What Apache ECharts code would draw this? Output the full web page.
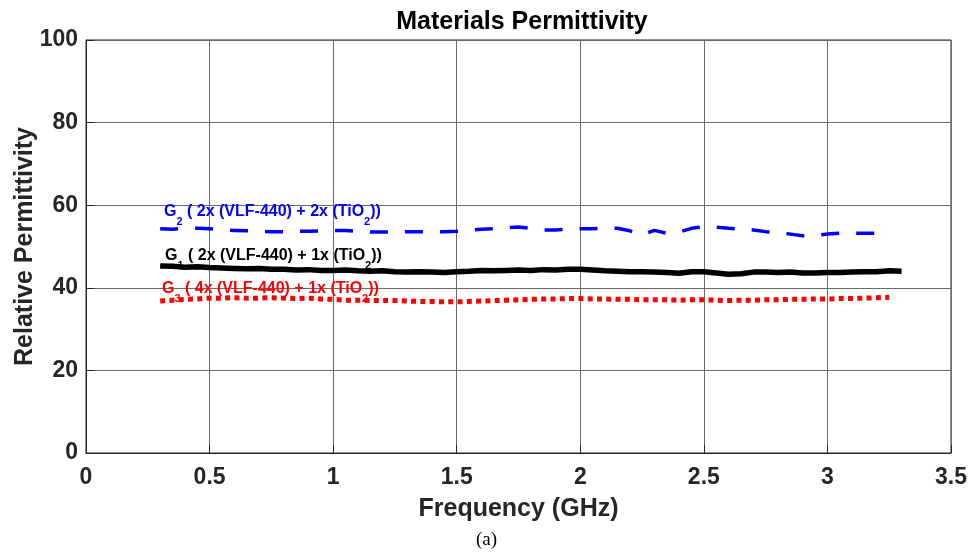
<!DOCTYPE html>
<html>
<head>
<meta charset="utf-8">
<script src="https://cdn.jsdelivr.net/npm/echarts@6/dist/echarts.min.js"></script>
<style>
    html, body { margin: 0; padding: 0; background: #fff; }
    #main { width: 973px; height: 553px; }
</style>
</head>
<body>
<div id="main"></div>
<script>
// frequency samples (GHz)
const freqG1 = [
    0.30, 0.35, 0.40, 0.45, 0.50, 0.55, 0.60, 0.65, 0.70, 0.75,
    0.80, 0.85, 0.90, 0.95, 1.00, 1.05, 1.10, 1.15, 1.20, 1.25,
    1.30, 1.35, 1.40, 1.45, 1.50, 1.55, 1.60, 1.65, 1.70, 1.75,
    1.80, 1.85, 1.90, 1.95, 2.00, 2.05, 2.10, 2.15, 2.20, 2.25,
    2.30, 2.35, 2.40, 2.45, 2.50, 2.55, 2.60, 2.65, 2.70, 2.75,
    2.80, 2.85, 2.90, 2.95, 3.00, 3.05, 3.10, 3.15, 3.20, 3.25, 3.30,
]
const freqG2 = freqG1.slice(0, 60)
const freqG3 = freqG1.slice(0, 60)

// relative permittivity readings
const permG1 = [
    45.3, 45.2, 45.0, 45.1, 44.9, 44.8, 44.7, 44.6, 44.7, 44.5,
    44.5, 44.3, 44.4, 44.2, 44.2, 44.3, 44.1, 44.0, 44.1, 43.9,
    43.8, 43.9, 43.8, 43.7, 43.9, 44.0, 44.2, 44.1, 44.2, 44.3,
    44.2, 44.4, 44.3, 44.5, 44.5, 44.3, 44.1, 44.0, 43.9, 43.9,
    43.8, 43.7, 43.5, 43.9, 43.9, 43.6, 43.3, 43.4, 43.8, 43.8,
    43.7, 43.8, 43.6, 43.6, 43.7, 43.7, 43.8, 43.9, 43.9, 44.1, 44.0,
]
const permG2 = [
    54.3, 54.2, 54.4, 54.4, 54.3, 54.0, 53.9, 53.8, 53.7, 53.6,
    53.6, 53.7, 53.7, 53.8, 53.9, 53.9, 53.7, 53.5, 53.5, 53.5,
    53.6, 53.6, 53.6, 53.6, 53.7, 53.9, 54.2, 54.3, 54.6, 54.7,
    54.4, 54.0, 54.0, 54.2, 54.3, 54.3, 54.4, 54.4, 53.8, 52.8,
    53.9, 53.2, 53.5, 54.4, 54.8, 54.7, 54.4, 54.2, 54.0, 53.6,
    53.4, 53.0, 52.6, 52.7, 53.0, 53.2, 53.2, 53.2, 53.2, 53.2,
]
const permG3 = [
    36.8, 37.0, 37.2, 37.3, 37.5, 37.5, 37.6, 37.5, 37.5, 37.6,
    37.5, 37.4, 37.5, 37.3, 37.2, 37.0, 37.0, 36.9, 36.9, 36.9,
    36.8, 36.7, 36.7, 36.6, 36.6, 36.7, 36.8, 36.9, 37.0, 37.1,
    37.2, 37.3, 37.3, 37.4, 37.4, 37.3, 37.3, 37.2, 37.2, 37.1,
    37.1, 37.1, 37.0, 37.1, 37.1, 37.0, 36.9, 37.0, 37.0, 37.1,
    37.1, 37.2, 37.2, 37.3, 37.3, 37.4, 37.4, 37.5, 37.6, 37.7,
]

const font = "'Liberation Sans', Arial, Helvetica, sans-serif"
const axisColor = '#262626'

const pairs = function(xs, ys) {
    return xs.map((x, i) => [x, ys[i]])
}

// rich label with subscripts
const richLabel = function(n, mix, color) {
    const text = `{m|G}{s|${n}}{m|${mix}(TiO}{s|2}{m|))}`
    return {
        text: text,
        fill: color,
        rich: {
            m: { fontFamily: font, fontWeight: 'bold', fontSize: 16, lineHeight: 18, fill: color },
            s: { fontFamily: font, fontWeight: 'bold', fontSize: 11, lineHeight: 11, padding: [19, 0, 0, 0], fill: color },
        },
    }
}

const optionForChart = function() {
    const option = {
        backgroundColor: '#fff',
        animation: false,
        title: {
            text: 'Materials Permittivity',
            left: 517,
            top: 5,
            textAlign: 'center',
            textStyle: { fontFamily: font, fontWeight: 'bold', fontSize: 25, color: '#000' },
        },
        grid: {
            left: 86, top: 40, right: 22, bottom: 100,
            outerBoundsMode: 'none',
            containLabel: false,
            show: true, borderColor: axisColor, borderWidth: 1,
        },
        xAxis: {
            type: 'value',
            min: 0, max: 3.5, interval: 0.5,
            name: 'Frequency (GHz)',
            nameLocation: 'middle',
            nameGap: 44,
            nameMoveOverlap: false,
            nameTextStyle: { fontFamily: font, fontWeight: 'bold', fontSize: 25, color: axisColor },
            axisLine: { show: true, lineStyle: { color: axisColor, width: 1 } },
            axisTick: { show: true, inside: true, length: 8, lineStyle: { color: axisColor } },
            axisLabel: {
                fontFamily: font, fontWeight: 'bold', fontSize: 23, color: axisColor, margin: 13,
                formatter: v => String(v),
            },
            splitLine: { show: true, lineStyle: { color: '#6a6a6a', width: 1 } },
        },
        yAxis: {
            type: 'value',
            min: 0, max: 100, interval: 20,
            name: 'Relative Permittivity',
            nameLocation: 'middle',
            nameGap: 48,
            nameMoveOverlap: false,
            nameTextStyle: { fontFamily: font, fontWeight: 'bold', fontSize: 25, color: axisColor },
            axisLine: { show: true, lineStyle: { color: axisColor, width: 1 } },
            axisTick: { show: true, inside: true, length: 8, lineStyle: { color: axisColor } },
            axisLabel: { fontFamily: font, fontWeight: 'bold', fontSize: 23, color: axisColor, margin: 8 },
            splitLine: { show: true, lineStyle: { color: '#6a6a6a', width: 1 } },
        },
        series: [
            {
                name: 'G2',
                type: 'line',
                data: pairs(freqG2, permG2),
                showSymbol: false,
                lineStyle: { color: '#0000ff', width: 3.5, type: [18, 17] },
                z: 3,
            },
            {
                name: 'G1',
                type: 'line',
                data: pairs(freqG1, permG1),
                showSymbol: false,
                lineStyle: { color: '#000', width: 5.5 },
                z: 4,
            },
            {
                name: 'G3',
                type: 'line',
                data: pairs(freqG3, permG3),
                showSymbol: false,
                lineStyle: { color: '#ff0000', width: 5, type: [5, 4.3] },
                z: 3,
            },
        ],
        graphic: [
            { type: 'text', left: 164, top: 197, style: richLabel(2, ' ( 2x (VLF-440) + 2x ', '#0000ff'), z: 10 },
            { type: 'text', left: 165, top: 241, style: richLabel(1, ' ( 2x (VLF-440) + 1x ', '#000'), z: 10 },
            { type: 'text', left: 162, top: 274, style: richLabel(3, ' ( 4x (VLF-440) + 1x ', '#ff0000'), z: 10 },
            {
                type: 'text', left: 'center', top: 531,
                style: { text: '(a)', fontFamily: "'Liberation Serif', 'Times New Roman', serif", fontSize: 19, fill: '#000' },
            },
        ],
    }
    return option
}

const __main = function() {
    const element = document.getElementById('main')
    const chart = echarts.init(element, null, { renderer: 'canvas' })
    chart.setOption(optionForChart())
}

__main()
</script>
</body>
</html>
